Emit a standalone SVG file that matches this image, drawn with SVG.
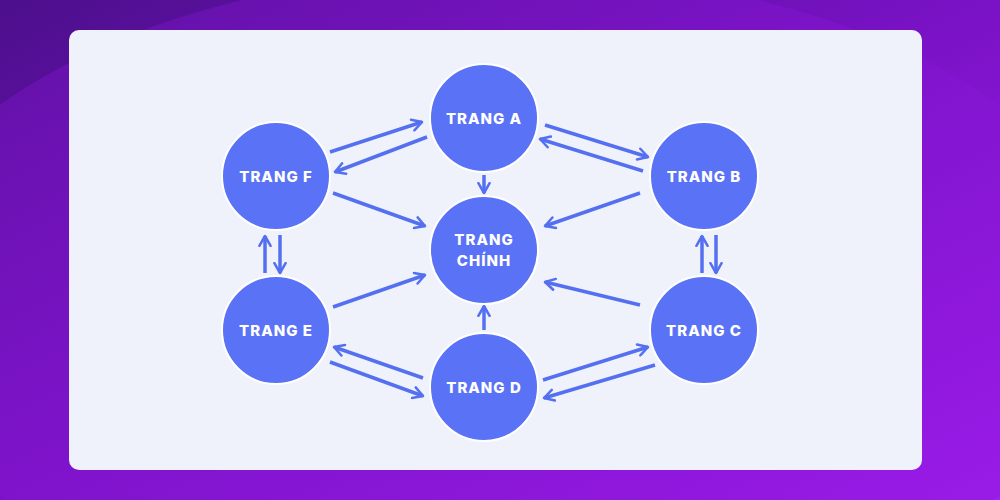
<svg xmlns="http://www.w3.org/2000/svg" width="1000" height="500" viewBox="0 0 1000 500">
<defs>
<linearGradient id="bg" x1="0" y1="0" x2="1" y2="1">
<stop offset="0" stop-color="#4c0f8c"/><stop offset="0.5" stop-color="#7a12c6"/><stop offset="1" stop-color="#a21ef0"/>
</linearGradient>
<marker id="ah" viewBox="0 0 10 10" refX="8" refY="5" markerWidth="4" markerHeight="4" orient="auto" markerUnits="strokeWidth">
<path d="M1,1 L8,5 L1,9" fill="none" stroke="#5470f0" stroke-width="1.8" stroke-linecap="round" stroke-linejoin="round"/>
</marker>
</defs>
<style>
.n{fill:#5a72f5;stroke:#fff;stroke-width:2}
.t{fill:#fff;font-family:Inter,"Noto Sans",sans-serif;font-weight:800;font-size:15px;text-anchor:middle;letter-spacing:1px}
.c line{stroke:#5470f0;stroke-width:3.5;marker-end:url(#ah)}
</style>
<rect width="1000" height="500" fill="url(#bg)"/>
<ellipse cx="500" cy="300" rx="620" ry="330" fill="#8a18d8" opacity="0.35"/>
<rect x="69" y="30" width="853" height="440" rx="10" fill="#eff2fb"/>
<g class="c">
<line x1="330" y1="152" x2="422" y2="122"/>
<line x1="427" y1="137" x2="335" y2="172"/>
<line x1="333" y1="193" x2="425" y2="226"/>
<line x1="333" y1="307" x2="425" y2="275"/>
<line x1="484" y1="175" x2="484" y2="193"/>
<line x1="484" y1="330" x2="484" y2="306"/>
<line x1="640" y1="193" x2="545" y2="226"/>
<line x1="640" y1="305" x2="545" y2="282"/>
<line x1="545" y1="125" x2="648" y2="157"/>
<line x1="643" y1="171" x2="540" y2="139"/>
<line x1="265" y1="273" x2="265" y2="236"/>
<line x1="280" y1="235" x2="280" y2="273"/>
<line x1="702" y1="273" x2="702" y2="236"/>
<line x1="716" y1="235" x2="716" y2="273"/>
<line x1="330" y1="362" x2="423" y2="396"/>
<line x1="423" y1="378" x2="334" y2="347"/>
<line x1="543" y1="380" x2="648" y2="347"/>
<line x1="655" y1="365" x2="544" y2="398"/>
</g>
<g id="a"><circle class="n" cx="484" cy="118" r="54"/><text class="t" x="484" y="124">TRANG A</text></g>
<g id="b"><circle class="n" cx="704" cy="176" r="54"/><text class="t" x="704" y="182">TRANG B</text></g>
<g id="c"><circle class="n" cx="704" cy="330" r="54"/><text class="t" x="704" y="336">TRANG C</text></g>
<g id="d"><circle class="n" cx="484" cy="387" r="54"/><text class="t" x="484" y="393">TRANG D</text></g>
<g id="e"><circle class="n" cx="276" cy="330" r="54"/><text class="t" x="276" y="336">TRANG E</text></g>
<g id="f"><circle class="n" cx="276" cy="176" r="54"/><text class="t" x="276" y="182">TRANG F</text></g>
<g id="main"><circle class="n" cx="484" cy="250" r="54"/><text class="t" x="484" y="245">TRANG</text><text class="t" x="484" y="266">CHÍNH</text></g>
</svg>
